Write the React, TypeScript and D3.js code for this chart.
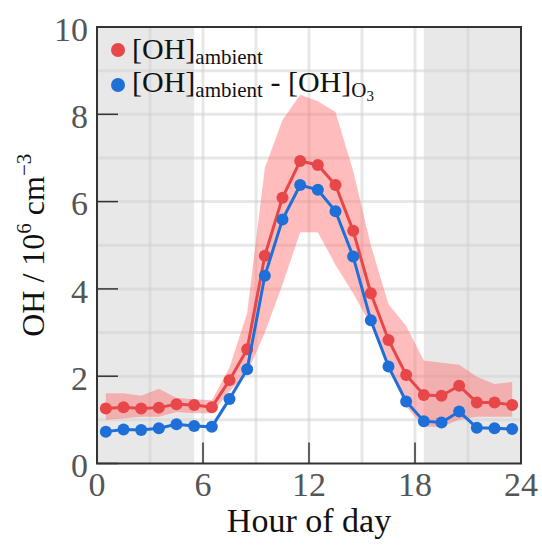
import React from "react";
import * as d3 from "d3";

const hours = [0.5,1.5,2.5,3.5,4.5,5.5,6.5,7.5,8.5,9.5,10.5,11.5,12.5,13.5,14.5,15.5,16.5,17.5,18.5,19.5,20.5,21.5,22.5,23.5];
const ohAmbient = [1.26,1.29,1.26,1.28,1.36,1.34,1.29,1.91,2.62,4.76,6.09,6.93,6.84,6.38,5.33,3.9,2.83,2.03,1.57,1.55,1.78,1.4,1.4,1.34];
const ohDiff = [0.73,0.78,0.77,0.81,0.9,0.86,0.84,1.48,2.16,4.3,5.59,6.38,6.27,5.78,4.74,3.28,2.22,1.42,0.97,0.94,1.19,0.82,0.81,0.79];
const bandUpper = [1.61,1.61,1.55,1.71,1.5,1.47,1.45,2.2,3.45,6.77,7.87,8.45,8.3,8.05,6.7,5.0,3.65,3.15,2.36,2.31,2.26,1.99,1.82,1.87];
const bandLower = [1.0,1.03,1.07,1.07,1.18,1.15,1.15,1.65,2.07,3.0,4.1,5.3,5.3,4.55,3.9,3.17,2.2,1.3,0.84,0.84,1.0,1.07,1.07,1.07];
const nightSpans: [number, number][] = [[0, 5.5], [18.5, 24]];
const xTicks = [0, 6, 12, 18, 24];
const yTicks = [0, 2, 4, 6, 8, 10];
const xGrid = [3, 6, 9, 12, 15, 18, 21];
const yGrid = [1, 2, 3, 4, 5, 6, 7, 8, 9];

const RED = "#e8474a";
const BLUE = "#1f6fd8";
const SERIF = "'Liberation Serif', 'DejaVu Serif', serif";

export default function App() {
  const W = 542, H = 545;
  const left = 97, right = 521, top = 27, bottom = 463.5;
  const x = d3.scaleLinear().domain([0, 24]).range([left, right]);
  const y = d3.scaleLinear().domain([0, 10]).range([bottom, top]);

  const area = d3.area<number>()
    .x((_, i) => x(hours[i]))
    .y0((_, i) => y(bandLower[i]))
    .y1((_, i) => y(bandUpper[i]));
  const line = d3.line<number>().x((_, i) => x(hours[i])).y((v) => y(v));

  return (
    <svg width={W} height={H} style={{ position: "absolute", left: 0, top: 0, background: "#fff" }}>
      {nightSpans.map(([a, b], i) => (
        <rect key={i} x={x(a)} y={top} width={x(b) - x(a)} height={bottom - top} fill="#e8e8e8" />
      ))}
      {xGrid.map((g) => (
        <line key={"gx" + g} x1={x(g)} x2={x(g)} y1={top} y2={bottom} stroke="#cfcfcf" strokeOpacity={0.5} strokeWidth={3} />
      ))}
      {yGrid.map((g) => (
        <line key={"gy" + g} x1={left} x2={right} y1={y(g)} y2={y(g)} stroke="#cfcfcf" strokeOpacity={0.5} strokeWidth={3} />
      ))}
      <path d={area(bandUpper) || ""} fill="#ff6b6b" fillOpacity={0.45} />
      <path d={line(ohAmbient) || ""} fill="none" stroke={RED} strokeWidth={3} />
      {ohAmbient.map((v, i) => (
        <circle key={"r" + i} cx={x(hours[i])} cy={y(v)} r={6} fill={RED} />
      ))}
      <path d={line(ohDiff) || ""} fill="none" stroke={BLUE} strokeWidth={3} />
      {ohDiff.map((v, i) => (
        <circle key={"b" + i} cx={x(hours[i])} cy={y(v)} r={6} fill={BLUE} />
      ))}
      {xTicks.map((t) => (
        <g key={"xt" + t}>
          <line x1={x(t)} x2={x(t)} y1={bottom} y2={bottom - 21} stroke="#333" strokeWidth={1.5} />
          <text x={x(t)} y={bottom + 32} textAnchor="middle" fontFamily={SERIF} fontSize={34} fill="#555">{t}</text>
        </g>
      ))}
      {yTicks.map((t) => (
        <g key={"yt" + t}>
          <line x1={left} x2={left + 21} y1={y(t)} y2={y(t)} stroke="#333" strokeWidth={1.5} />
          <text x={left - 9} y={y(t) + 6} textAnchor="end" dominantBaseline="middle" fontFamily={SERIF} fontSize={34} fill="#555">{t}</text>
        </g>
      ))}
      <rect x={left} y={top} width={right - left} height={bottom - top} fill="none" stroke="#333" strokeWidth={2} />
      <text x={(left + right) / 2} y={532} textAnchor="middle" fontFamily={SERIF} fontSize={34} fill="#111">Hour of day</text>
      <text transform={`translate(44, ${(top + bottom) / 2}) rotate(-90)`} textAnchor="middle" fontFamily={SERIF} fontSize={32} fill="#111">
        OH / 10<tspan dy={-13} fontSize={21}>6</tspan><tspan dy={13}> cm</tspan><tspan dy={-13} fontSize={21}>−3</tspan>
      </text>
      <circle cx={118} cy={50} r={7} fill={RED} />
      <text x={132} y={59} fontFamily={SERIF} fontSize={30} fill="#111">
        [OH]<tspan dy={5} fontSize={21}>ambient</tspan>
      </text>
      <circle cx={118} cy={85} r={7} fill={BLUE} />
      <text x={132} y={92} fontFamily={SERIF} fontSize={30} fill="#111">
        [OH]<tspan dy={5} fontSize={21}>ambient</tspan><tspan dy={-5}> - [OH]</tspan><tspan dy={5} fontSize={21}>O</tspan><tspan dy={4} fontSize={15}>3</tspan>
      </text>
    </svg>
  );
}
